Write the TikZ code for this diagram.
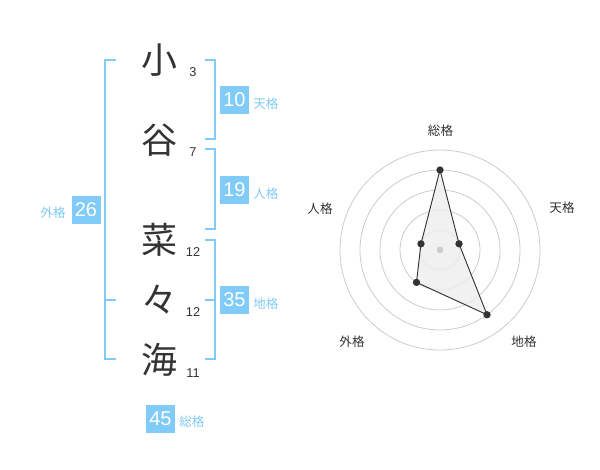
\documentclass[tikz,border=0pt]{standalone}
\usepackage{fontspec}
\setmainfont{Noto Sans CJK JP}
\newfontfamily\digitfont{Liberation Sans}
\begin{document}
\begin{tikzpicture}[x=0.75pt,y=-0.75pt,
  kanji/.style={font=\fontsize{27}{27}\selectfont, text=ink, inner sep=0pt},
  strokes/.style={font=\digitfont\fontsize{9.6}{10}\selectfont, text=ink, inner sep=0pt},
  valbox/.style={fill=fortune, text=white, minimum width=29*0.75pt, minimum height=28*0.75pt, inner sep=0pt, font=\digitfont\fontsize{15}{15}\selectfont},
  kaku/.style={text=fortune, font=\fontsize{9.4}{10}\selectfont, inner sep=0pt},
  bracket/.style={draw=fortune, line width=1.5pt},
  ring/.style={draw=ringgray, line width=0.6pt},
  axlabel/.style={text=ink, font=\fontsize{9.4}{10}\selectfont, inner sep=0pt},
  dot/.style={circle, fill=ink, inner sep=0pt, minimum size=5.5pt}
]
\definecolor{fortune}{HTML}{80CBF7}
\definecolor{ink}{HTML}{333333}
\definecolor{ringgray}{HTML}{CCCCCC}
\definecolor{areafill}{HTML}{EEEEEE}
\useasboundingbox (0,0) rectangle (600,470);
\fill[white] (0,0) rectangle (600,470);

% name characters
\node[kanji] (c1) at (159,60) {小};
\node[kanji] (c2) at (159,140) {谷};
\node[kanji] (c3) at (159,240) {菜};
\node[kanji] (c4) at (159,300) {々};
\node[kanji] (c5) at (159,360) {海};
\node[strokes] (n1) at (193,72) {3};
\node[strokes] (n2) at (193,152) {7};
\node[strokes] (n3) at (193,252) {12};
\node[strokes] (n4) at (193,312) {12};
\node[strokes] (n5) at (193,373) {11};

% brackets
\draw[bracket] (116,60) -- (104.7,60) -- (104.7,359.5) -- (116,359.5);
\draw[bracket] (104.7,300) -- (116,300);
\draw[bracket] (205,60) -- (214.5,60) -- (214.5,139.3) -- (205,139.3);
\draw[bracket] (205,149.3) -- (214.5,149.3) -- (214.5,229) -- (205,229);
\draw[bracket] (205,240) -- (214.5,240) -- (214.5,359.5) -- (205,359.5);
\draw[bracket] (205,300) -- (214.5,300);

% values
\node[valbox] (ten) at (234.5,100) {10};
\node[kaku, anchor=west] (tenl) at (253,104) {天格};
\node[valbox] (jin) at (234.5,190) {19};
\node[kaku, anchor=west] (jinl) at (253,194) {人格};
\node[valbox] (chi) at (234.5,300) {35};
\node[kaku, anchor=west] (chil) at (253,304) {地格};
\node[valbox] (gai) at (86,210) {26};
\node[kaku, anchor=east] (gail) at (66,213) {外格};
\node[valbox] (sou) at (160.5,419) {45};
\node[kaku, anchor=west] (soul) at (179,422) {総格};

% radar
\foreach \r in {20,40,60,80,100} \draw[ring] (440,250) circle[radius=\r];
\coordinate (pS) at ({440+80*cos(90)},{250-80*sin(90)});
\coordinate (pT) at ({440+20*cos(18)},{250-20*sin(18)});
\coordinate (pC) at ({440+80*cos(-54)},{250-80*sin(-54)});
\coordinate (pG) at ({440+40*cos(-126)},{250-40*sin(-126)});
\coordinate (pJ) at ({440+20*cos(162)},{250-20*sin(162)});
\fill[areafill, opacity=0.8] (pS) -- (pT) -- (pC) -- (pG) -- (pJ) -- cycle;
\draw[ink, line width=0.7pt, line join=round] (pS) -- (pT) -- (pC) -- (pG) -- (pJ) -- cycle;
\node[circle, fill=ringgray, inner sep=0pt, minimum size=5pt] (ctr) at (440,250) {};
\foreach \p in {pS,pT,pC,pG,pJ} \node[dot] at (\p) {};

\node[axlabel] (aS) at (440.5,131) {総格};
\node[axlabel] (aT) at (562,208) {天格};
\node[axlabel] (aJ) at (320,209) {人格};
\node[axlabel] (aG) at (352,342) {外格};
\node[axlabel] (aC) at (524,342) {地格};
\end{tikzpicture}
\end{document}
